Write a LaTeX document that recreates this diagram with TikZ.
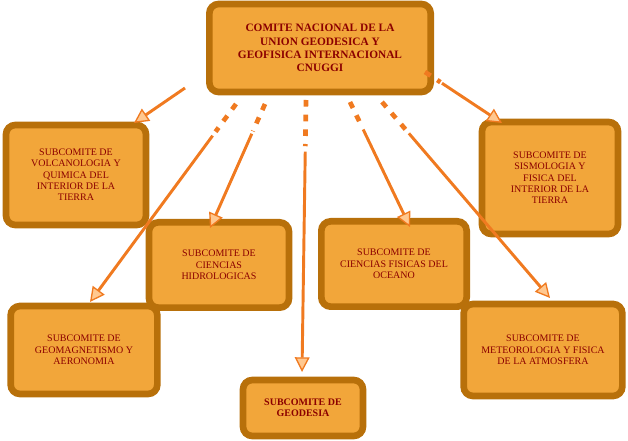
\documentclass[tikz,border=0pt]{standalone}
\usepackage{fontspec}
\setmainfont{Liberation Serif}
\usetikzlibrary{arrows.meta,calc}
\definecolor{boxface}{HTML}{F2A63A}
\definecolor{boxedge}{HTML}{B8700A}
\definecolor{boxtext}{HTML}{8B0000}
\definecolor{connline}{HTML}{F07A20}
\definecolor{connfill}{HTML}{FFC890}
\tikzset{
  subbox/.style={draw=boxedge, fill=boxface, line width=5pt, rounded corners=7pt,
    align=center, text=boxtext, font=\fontsize{7.5}{8.5}\selectfont, inner sep=2pt},
  conn/.style={draw=connline, line width=2.2pt,
    -{Triangle[length=11pt,width=11pt,open,fill=connfill,line width=1pt]}},
  conndash/.style={draw=connline, line width=3.5pt, dash pattern=on 5pt off 6pt}
}
\begin{document}
\begin{tikzpicture}[x=0.75pt,y=-0.75pt]
\useasboundingbox (0,0) rectangle (628,441);
% boxes
\node[subbox, minimum width=166pt, minimum height=66pt, font=\bfseries\fontsize{8.5}{10}\selectfont]
  (cnuggi) at (320,48) {COMITE NACIONAL DE LA\\UNION GEODESICA Y\\GEOFISICA INTERNACIONAL\\CNUGGI};
\node[subbox, minimum width=105pt, minimum height=75pt] (volc) at (76,175)
  {SUBCOMITE DE\\VOLCANOLOGIA Y\\QUIMICA DEL\\INTERIOR DE LA\\TIERRA};
\node[subbox, minimum width=102pt, minimum height=84pt] (sismo) at (550,178)
  {SUBCOMITE DE\\SISMOLOGIA Y\\FISICA DEL\\INTERIOR DE LA\\TIERRA};
\node[subbox, minimum width=105pt, minimum height=64pt] (hidro) at (219,265)
  {SUBCOMITE DE\\CIENCIAS\\HIDROLOGICAS};
\node[subbox, minimum width=109pt, minimum height=64pt] (oceano) at (394,264)
  {SUBCOMITE DE\\CIENCIAS FISICAS DEL\\OCEANO};
\node[subbox, minimum width=110pt, minimum height=66pt] (geomag) at (84,350)
  {SUBCOMITE DE\\GEOMAGNETISMO Y\\AERONOMIA};
\node[subbox, minimum width=119pt, minimum height=69pt] (meteo) at (543,350)
  {SUBCOMITE DE\\METEOROLOGIA Y FISICA\\DE LA ATMOSFERA};
\node[subbox, minimum width=90pt, minimum height=42pt, font=\bfseries\fontsize{7.5}{8.5}\selectfont]
  (geod) at (303,408) {SUBCOMITE DE\\GEODESIA};
% connectors
\coordinate (s1) at (185,88);  \coordinate (e1) at (134,123);
\coordinate (s2) at (236,104); \coordinate (e2) at (90,302);
\coordinate (s3) at (265,104); \coordinate (e3) at (210,228);
\coordinate (s4) at (306,100); \coordinate (e4) at (302,372);
\coordinate (s5) at (350,102); \coordinate (e5) at (410,227);
\coordinate (s6) at (382,102); \coordinate (e6) at (550,298);
\coordinate (s7) at (425,72);  \coordinate (e7) at (502,123);
\draw[conn] (s1) -- (e1);
\foreach \i/\f in {2/0.14,3/0.22,4/0.17,5/0.2,6/0.14} {
  \draw[conndash] (s\i) -- ($(s\i)!\f!(e\i)$);
  \draw[conn] ($(s\i)!\f+0.02!(e\i)$) -- (e\i);
}
\draw[conndash] (s7) -- ($(s7)!0.2!(e7)$);
\draw[conn] ($(s7)!0.22!(e7)$) -- (e7);
\end{tikzpicture}
\end{document}
